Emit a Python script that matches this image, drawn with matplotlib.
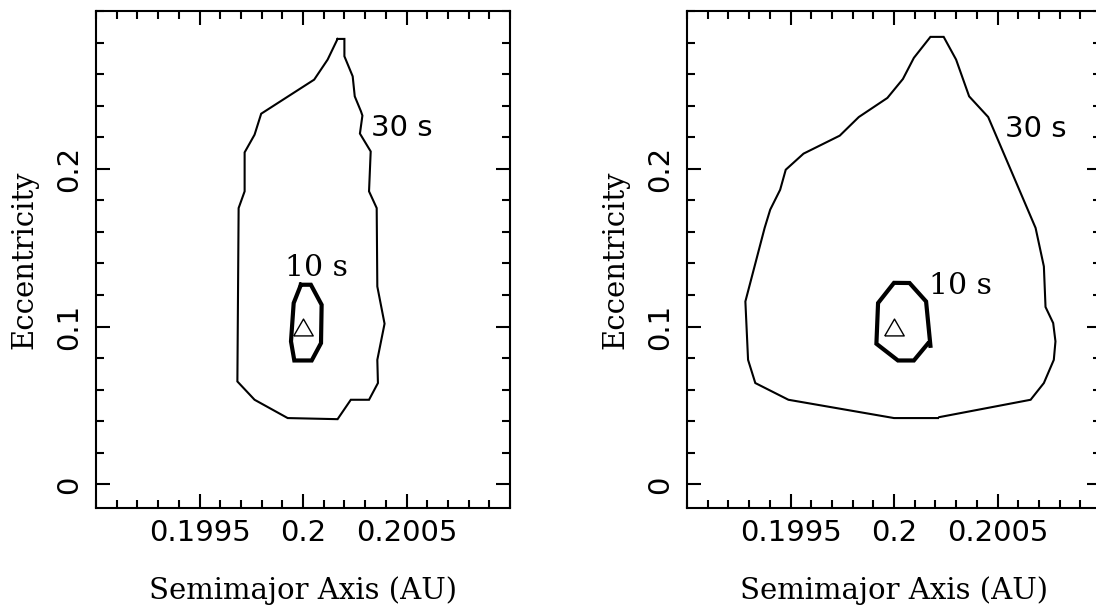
import matplotlib
matplotlib.use("Agg")
import matplotlib.pyplot as plt
from matplotlib.ticker import FixedLocator, FixedFormatter, MultipleLocator

# ---------------- data ----------------
xticks = [0.1995, 0.2, 0.2005]
xtick_labels = ["0.1995", "0.2", "0.2005"]
yticks = [0.0, 0.1, 0.2]
ytick_labels = ["0", "0.1", "0.2"]

true_a = 0.2
true_e = 0.1

# left panel, 30 s contour
left30_a = [0.200167, 0.20020, 0.20020, 0.20024, 0.20025, 0.20028, 0.200287,
            0.200275, 0.200327, 0.200319, 0.200356, 0.200359, 0.200394,
            0.200359, 0.200362, 0.200319, 0.200231, 0.200167, 0.199926,
            0.199766, 0.199683, 0.199689, 0.199718, 0.199718, 0.199766,
            0.199798, 0.200054, 0.200119, 0.200167]
left30_e = [0.2823, 0.2823, 0.2713, 0.2586, 0.2459, 0.2364, 0.2337, 0.2223,
            0.2110, 0.1857, 0.1751, 0.1254, 0.1018, 0.0789, 0.0642, 0.0536,
            0.0536, 0.0413, 0.0420, 0.0536, 0.0652, 0.1751, 0.1857, 0.2104,
            0.2216, 0.2349, 0.2565, 0.2692, 0.2823]

# left panel, 10 s contour
left10_a = [0.19999, 0.200038, 0.20009, 0.200087, 0.200042, 0.199958,
            0.199942, 0.199955, 0.19999]
left10_e = [0.1265, 0.1265, 0.1138, 0.0895, 0.0785, 0.0785, 0.0906, 0.1149,
            0.1265]

# right panel, 30 s contour
right30_a = [0.200219, 0.20066, 0.200724, 0.200772, 0.20078, 0.200769,
             0.200732, 0.200724, 0.200684, 0.200455, 0.200363, 0.2003,
             0.20024, 0.200176, 0.200096, 0.200043, 0.199968, 0.19983,
             0.199738, 0.199563, 0.199477, 0.19945, 0.199402, 0.199375,
             0.199282, 0.199295, 0.19933, 0.19949, 0.2, 0.200212]
right30_e = [0.0426, 0.0536, 0.0642, 0.0789, 0.0906, 0.1022, 0.1124, 0.1381,
             0.1625, 0.2328, 0.2459, 0.2692, 0.2836, 0.2836, 0.2703, 0.2569,
             0.2449, 0.2328, 0.2210, 0.2096, 0.1994, 0.1867, 0.1741, 0.1625,
             0.1159, 0.0789, 0.0642, 0.0536, 0.0420, 0.0420]

# right panel, 10 s contour
right10_a = [0.200176, 0.200155, 0.200075, 0.2, 0.199923, 0.199915, 0.200019,
             0.200096, 0.200163]
right10_e = [0.0878, 0.1159, 0.1276, 0.1277, 0.1149, 0.0891, 0.0785, 0.0785,
             0.0891]

# label positions (a, e)
left_lab10 = (0.200067, 0.1373)
left_lab30 = (0.200477, 0.2261)
right_lab10 = (0.200319, 0.1254)
right_lab30 = (0.200684, 0.2252)

# ---------------- figure ----------------
fig = plt.figure(figsize=(10.96, 6.08), dpi=100)
W, H = 1096.0, 608.0
ax1 = fig.add_axes([96 / W, 100 / H, 414 / W, 497 / H])
ax2 = fig.add_axes([687 / W, 100 / H, 414 / W, 497 / H])

tri = [(-1, -0.866), (1, -0.866), (0, 0.866), (-1, -0.866)]

panels = [
    (ax1, left30_a, left30_e, left10_a, left10_e, left_lab30, left_lab10),
    (ax2, right30_a, right30_e, right10_a, right10_e, right_lab30, right_lab10),
]

for ax, a30, e30, a10, e10, l30, l10 in panels:
    ax.plot(a30, e30, color="black", lw=1.5, solid_joinstyle="miter")
    ax.plot(a10, e10, color="black", lw=3.0, solid_joinstyle="miter")
    ax.plot([true_a], [true_e], linestyle="none", marker=tri, markersize=14,
            markerfacecolor="none", markeredgecolor="black", markeredgewidth=1.0)
    ax.text(l30[0], l30[1], "30 s", fontsize=21, family="DejaVu Sans",
            ha="center", va="center")
    ax.text(l10[0], l10[1], "10 s", fontsize=21.5, family="DejaVu Serif",
            ha="center", va="center")

    ax.set_xlim(0.199, 0.201)
    ax.set_ylim(-0.015, 0.3)
    ax.xaxis.set_major_locator(FixedLocator(xticks))
    ax.xaxis.set_major_formatter(FixedFormatter(xtick_labels))
    ax.xaxis.set_minor_locator(MultipleLocator(0.0001))
    ax.yaxis.set_major_locator(FixedLocator(yticks))
    ax.yaxis.set_major_formatter(FixedFormatter(ytick_labels))
    ax.yaxis.set_minor_locator(MultipleLocator(0.02))

    ax.tick_params(which="both", direction="in", top=True, right=True,
                   width=1.5, color="black")
    ax.tick_params(which="major", length=10, labelsize=21)
    ax.tick_params(which="minor", length=5.5)
    ax.tick_params(axis="x", pad=8)
    ax.tick_params(axis="y", pad=9, labelrotation=90)
    for lab in ax.get_yticklabels():
        lab.set_verticalalignment("center")
    for sp in ax.spines.values():
        sp.set_linewidth(1.5)

    ax.set_xlabel("Semimajor Axis (AU)", fontsize=21, family="DejaVu Serif")
    ax.xaxis.label.set_verticalalignment("baseline")
    ax.xaxis.set_label_coords(0.5, -0.184)
    ax.set_ylabel("Eccentricity", fontsize=21, family="DejaVu Serif")
    ax.yaxis.label.set_verticalalignment("center")
    ax.yaxis.set_label_coords(-0.174, 0.5)

fig.savefig("out.png", dpi=100)
